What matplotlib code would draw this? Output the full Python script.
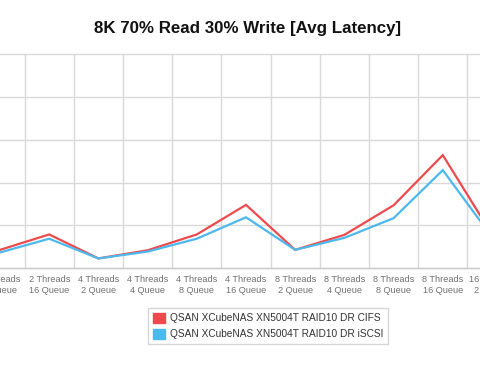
import matplotlib
matplotlib.use('Agg')
import matplotlib.pyplot as plt
from matplotlib.patches import Patch

plt.rcParams['font.family'] = ['Liberation Sans', 'DejaVu Sans']

# categories visible in the (cropped) chart
categories = ['2 Threads\n8 Queue', '2 Threads\n16 Queue', '4 Threads\n2 Queue',
              '4 Threads\n4 Queue', '4 Threads\n8 Queue', '4 Threads\n16 Queue',
              '8 Threads\n2 Queue', '8 Threads\n4 Queue', '8 Threads\n8 Queue',
              '8 Threads\n16 Queue', '16 Threads\n2 Queue']
cifs = [0.43, 0.79, 0.23, 0.42, 0.79, 1.48, 0.43, 0.78, 1.47, 2.64, 0.79]
iscsi = [0.37, 0.69, 0.23, 0.39, 0.69, 1.19, 0.43, 0.71, 1.17, 2.29, 0.73]
series_names = ['QSAN XCubeNAS XN5004T RAID10 DR CIFS',
                'QSAN XCubeNAS XN5004T RAID10 DR iSCSI']
red = '#ED4A4D'
blue = '#4DB8EC'

fig = plt.figure(figsize=(4.8, 3.74), dpi=100)
# plot area runs past the picture edges (the reference is a crop)
ax = fig.add_axes([-24.6 / 480, 1 - 268.3 / 374, 541.2 / 480, 214.3 / 374])

x = list(range(len(categories)))
ax.plot(x, cifs, color=red, lw=1.6, solid_joinstyle='miter', zorder=3)
ax.plot(x, iscsi, color=blue, lw=1.6, solid_joinstyle='miter', zorder=4)

ax.set_xlim(-0.5, len(categories) - 0.5)
ax.set_ylim(0, 5)
ax.set_yticks([0, 1, 2, 3, 4, 5])
ax.set_yticklabels([])
ax.set_xticks([i + 0.5 for i in range(len(categories) - 1)], minor=False)
ax.set_xticklabels([])
ax.set_xticks(x, minor=True)
ax.set_xticklabels(categories, minor=True, fontsize=6.6, color='#707070',
                   linespacing=1.25)
ax.tick_params(axis='both', which='both', length=0)
ax.tick_params(axis='x', which='minor', pad=5)
ax.grid(True, which='major', color='#d9d9d9', lw=1)
for gl in ax.get_ygridlines():
    gl.set_clip_on(False)
for s in ['left', 'right', 'top']:
    ax.spines[s].set_visible(False)
ax.spines['bottom'].set_color('#cccccc')
ax.spines['bottom'].set_linewidth(1)

fig.text(247.5 / 480, 1 - 29 / 374, '8K 70% Read 30% Write [Avg Latency]',
         ha='center', va='center', fontsize=12.2, fontweight='bold', color='#111111')

handles = [Patch(facecolor=red, edgecolor=red), Patch(facecolor=blue, edgecolor=blue)]
leg = fig.legend(handles, series_names, loc='center',
                 bbox_to_anchor=(268 / 480, 1 - 326 / 374), fontsize=7.3,
                 frameon=True, fancybox=False, handlelength=1.15, handleheight=1.15,
                 handletextpad=0.5, labelspacing=0.55, borderpad=0.45,
                 labelcolor='#333333')
leg.get_frame().set_edgecolor('#cccccc')
leg.get_frame().set_linewidth(1)

fig.savefig('out.png', dpi=100)
